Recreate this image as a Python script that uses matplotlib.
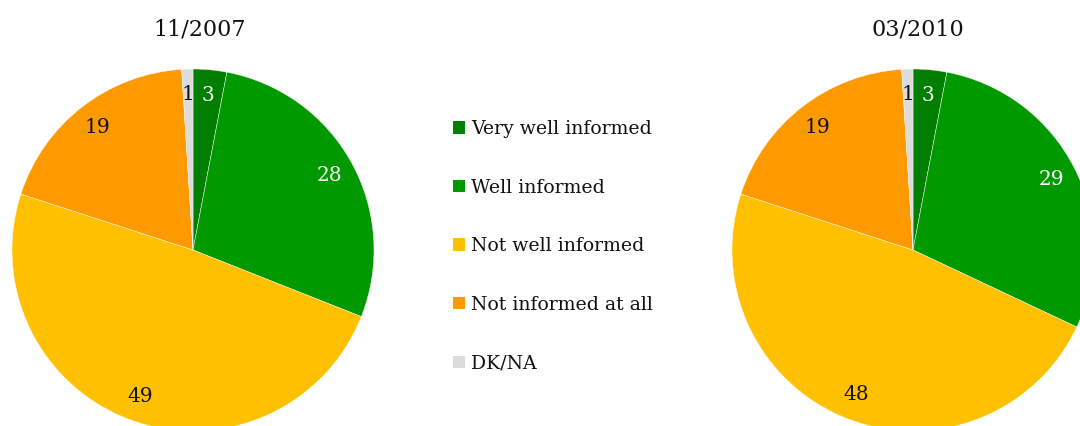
import matplotlib
matplotlib.use("Agg")
import matplotlib.pyplot as plt
from matplotlib.patches import Patch

categories = ["Very well informed", "Well informed", "Not well informed", "Not informed at all", "DK/NA"]
values_2007 = [3, 28, 49, 19, 1]
values_2010 = [3, 29, 48, 19, 1]
titles = ["11/2007", "03/2010"]
colors = ["#007F00", "#009A00", "#FFC000", "#FF9900", "#DCDCDC"]
label_colors = ["white", "white", "#111111", "#111111", "#111111"]

plt.rcParams['font.family'] = ['DejaVu Serif']

W, H = 1080, 426
fig = plt.figure(figsize=(W / 100, H / 100), dpi=100)
ax = fig.add_axes([0, 0, 1, 1])
ax.set_xlim(0, W)
ax.set_ylim(0, H)
ax.set_aspect('equal')
ax.axis('off')

R = 181
centers = [(193, H - 250), (913, H - 250)]
title_pos = [(200, H - 30), (918, H - 30)]

for vals, (cx, cy), title, (tx, ty) in zip([values_2007, values_2010], centers, titles, title_pos):
    wedges, texts = ax.pie(vals, colors=colors, startangle=90, counterclock=False,
                           center=(cx, cy), radius=R, labels=[str(v) for v in vals],
                           labeldistance=0.86,
                           wedgeprops=dict(edgecolor='white', linewidth=0.3),
                           textprops=dict(fontsize=14.5))
    for t, c in zip(texts, label_colors):
        t.set_color(c)
        t.set_ha('center')
        t.set_va('center')
    ax.text(tx, ty, title, ha='center', va='center', fontsize=16, color='#111111')

ax.set_xlim(0, W)
ax.set_ylim(0, H)

handles = [Patch(facecolor=c, edgecolor='none') for c in colors]
leg = fig.legend(handles, categories, loc='upper left', bbox_to_anchor=(453 / W, 1 - 120 / H),
                 frameon=False, fontsize=13.6, handlelength=0.64, handleheight=0.64,
                 handletextpad=0.3, labelspacing=2.15, borderaxespad=0, borderpad=0)
for t in leg.get_texts():
    t.set_color('#111111')

fig.savefig("out.png", dpi=100)
